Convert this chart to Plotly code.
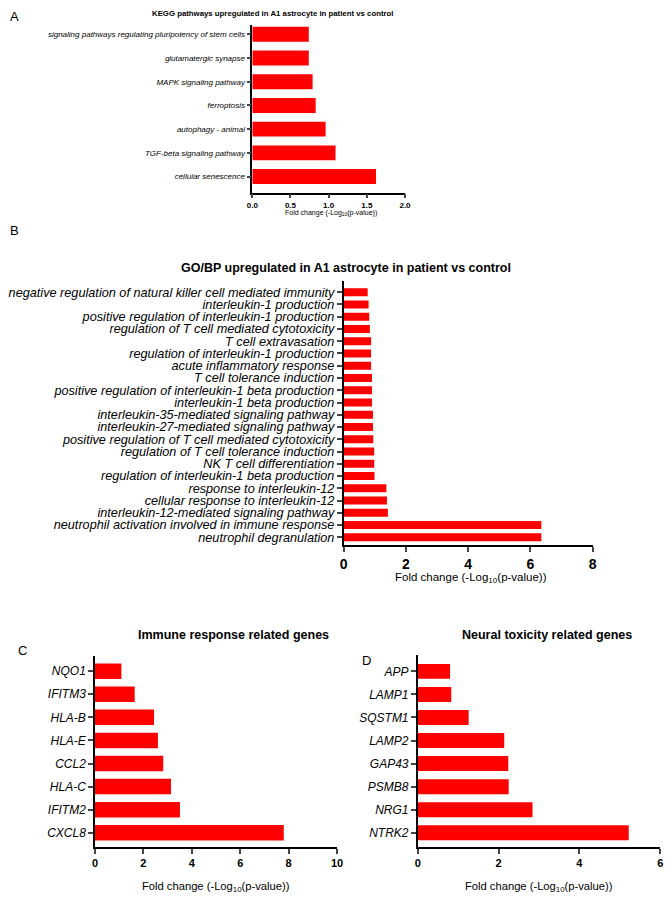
import plotly.graph_objects as go

# the page body has an 8px margin, so the figure is drawn 8px in from the corner
OFF = 8
W, H = 672 - 2 * OFF, 902 - 2 * OFF

kegg_terms = ["signaling pathways regulating pluripotency of stem cells",
              "glutamatergic synapse", "MAPK signaling pathway", "ferroptosis",
              "autophagy - animal", "TGF-beta signaling pathway", "cellular senescence"]
kegg_vals = [0.74, 0.74, 0.79, 0.83, 0.96, 1.09, 1.62]

gobp_terms = ["negative regulation of natural killer cell mediated immunity",
              "interleukin-1 production",
              "positive regulation of interleukin-1 production",
              "regulation of T cell mediated cytotoxicity",
              "T cell extravasation",
              "regulation of interleukin-1 production",
              "acute inflammatory response",
              "T cell tolerance induction",
              "positive regulation of interleukin-1 beta production",
              "interleukin-1 beta production",
              "interleukin-35-mediated signaling pathway",
              "interleukin-27-mediated signaling pathway",
              "positive regulation of T cell mediated cytotoxicity",
              "regulation of T cell tolerance induction",
              "NK T cell differentiation",
              "regulation of interleukin-1 beta production",
              "response to interleukin-12",
              "cellular response to interleukin-12",
              "interleukin-12-mediated signaling pathway",
              "neutrophil activation involved in immune response",
              "neutrophil degranulation"]
gobp_vals = [0.77, 0.80, 0.82, 0.84, 0.88, 0.88, 0.88, 0.91, 0.91, 0.91, 0.94,
             0.94, 0.95, 0.98, 0.98, 0.99, 1.37, 1.39, 1.42, 6.35, 6.35]

immune_genes = ["NQO1", "IFITM3", "HLA-B", "HLA-E", "CCL2", "HLA-C", "IFITM2", "CXCL8"]
immune_vals = [1.09, 1.64, 2.44, 2.60, 2.82, 3.14, 3.51, 7.80]

neural_genes = ["APP", "LAMP1", "SQSTM1", "LAMP2", "GAP43", "PSMB8", "NRG1", "NTRK2"]
neural_vals = [0.80, 0.83, 1.26, 2.14, 2.24, 2.25, 2.84, 5.22]

FONT = "Arial, Liberation Sans, sans-serif"
RED = "#ff0000"
xtitle = "Fold change (-Log<sub>10</sub>(p-value))"


def px(x):
    return (x - OFF) / W


def py(y):
    return 1 - (y - OFF) / H


fig = go.Figure()
annos = []

# (terms, vals, suffix, x-domain px, y-domain px, x-range, y-pad, bar width, label size, tick size, ticklen, dtick)
panels = [
    (kegg_terms, kegg_vals, "", (252.3, 405), (25, 192.7), 2, (0.39, 0.68), 0.63, 8, 8, 4, 0.5),
    (gobp_terms, gobp_vals, "2", (343.7, 592.7), (280.7, 545), 8, (0.94, 0.63), 0.65, 12.7, 14, 5, 2),
    (immune_genes, immune_vals, "3", (95, 337), (655.7, 847.3), 10, (0.67, 0.63), 0.67, 12, 11, 5, 2),
    (neural_genes, neural_vals, "4", (417.7, 660.3), (655, 847.3), 6, (0.71, 0.63), 0.65, 12, 11, 5, 2),
]

for terms, vals, s, xd, yd, xmax, pad, bw, lsize, tsize, tl, dt in panels:
    fig.add_trace(go.Bar(x=vals, y=terms, orientation="h", width=bw,
                         marker=dict(color=RED, line=dict(width=0)),
                         xaxis="x" + s, yaxis="y" + s, showlegend=False))
    n = len(terms)
    fig.update_layout(**{
        "xaxis" + s: dict(domain=[px(xd[0]), px(xd[1])], anchor="y" + s, automargin=False,
                          range=[0, xmax], dtick=dt, showline=True, linecolor="black",
                          linewidth=1.5, ticks="outside", ticklen=tl, tickwidth=1.5,
                          showgrid=False, zeroline=False,
                          tickformat=".1f" if xmax == 2 else "d",
                          tickfont=dict(family=FONT, size=tsize, color="black", weight="bold")),
        "yaxis" + s: dict(domain=[py(yd[1]), py(yd[0])], anchor="x" + s, automargin=False,
                          type="category", range=[n - 1 + pad[1], -pad[0]],
                          tickmode="array", tickvals=terms, ticktext=terms,
                          showline=True, linecolor="black", linewidth=1.5,
                          ticks="outside", ticklen=tl, tickwidth=1.5, showgrid=False,
                          tickfont=dict(family=FONT, size=lsize, color="black", style="italic")),
    })

# titles
titles = [
    ("KEGG pathways upregulated in A1 astrocyte in patient vs control", 272, 13, 7.8),
    ("GO/BP upregulated in A1 astrocyte in patient vs control", 346, 268, 12.5),
    ("Immune response related genes", 233, 635, 12.5),
    ("Neural toxicity related genes", 546.5, 635, 12.5),
]
for t, x, y, sz in titles:
    annos.append(dict(text=t, x=px(x), y=py(y), xref="paper", yref="paper",
                      showarrow=False, xanchor="center", yanchor="middle",
                      font=dict(family=FONT, size=sz, color="black", weight="bold")))

# axis titles
for x, y, sz in [(331, 213, 7), (471, 578, 11.5), (216, 887, 11.2), (539, 887, 11.2)]:
    annos.append(dict(text=xtitle, x=px(x), y=py(y), xref="paper", yref="paper",
                      showarrow=False, xanchor="center", yanchor="middle",
                      font=dict(family=FONT, size=sz, color="black")))

# panel letters
for t, x, y in [("A", 14, 17), ("B", 14, 231), ("C", 22, 650), ("D", 366, 660)]:
    annos.append(dict(text=t, x=px(x), y=py(y), xref="paper", yref="paper",
                      showarrow=False, xanchor="center", yanchor="middle",
                      font=dict(family=FONT, size=13, color="black")))

fig.update_layout(width=W, height=H, margin=dict(l=0, r=0, t=0, b=0),
                  template="none", paper_bgcolor="white", plot_bgcolor="white",
                  annotations=annos, bargap=0.3)

fig.write_html("out.html")
